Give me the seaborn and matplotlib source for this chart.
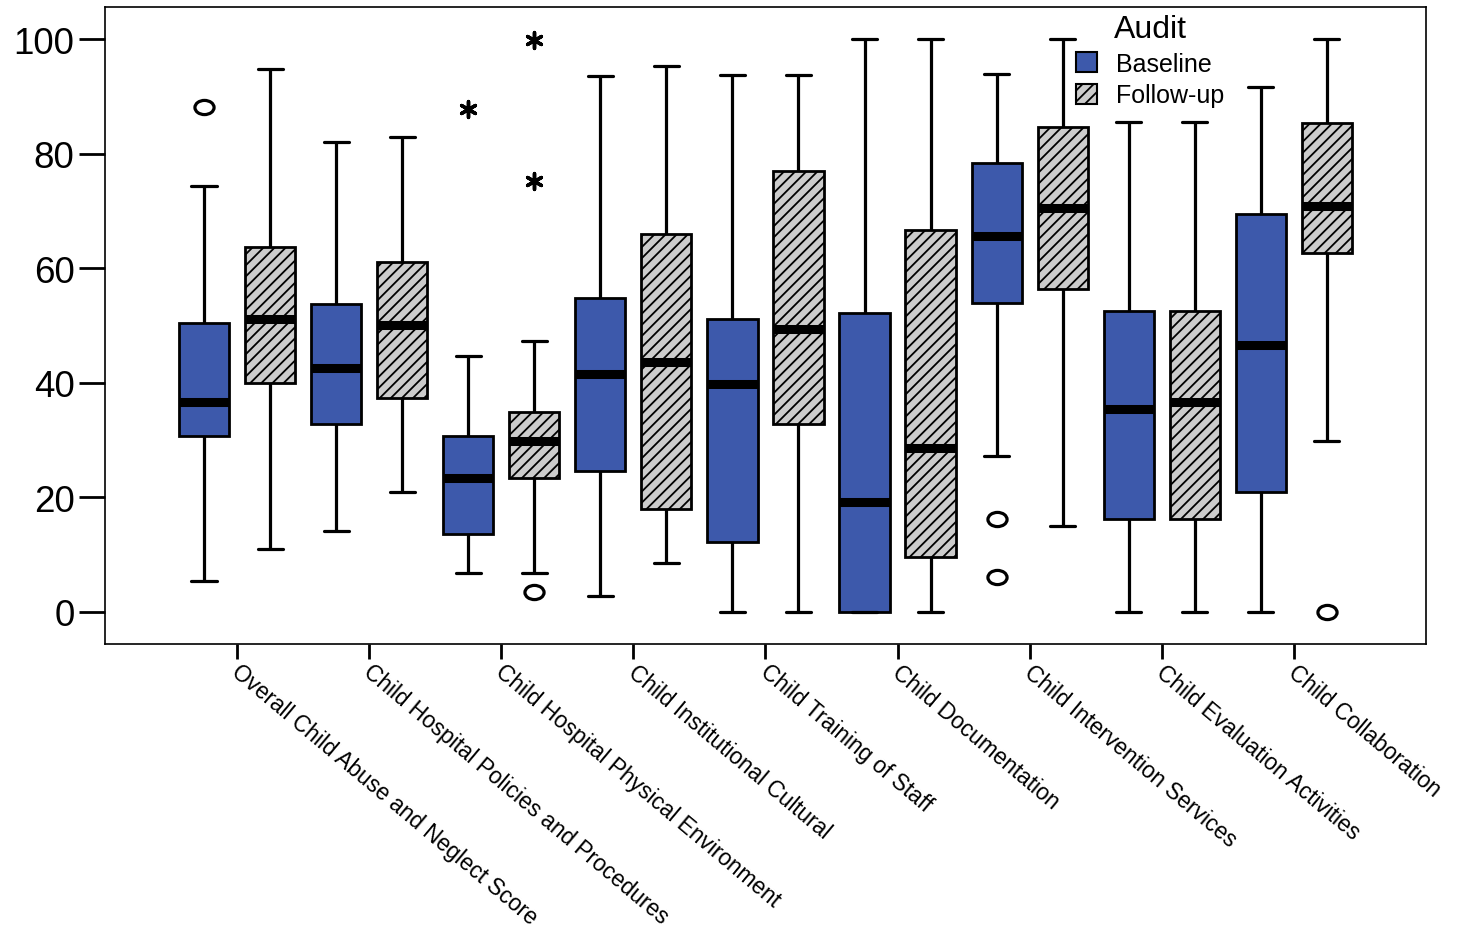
import numpy as np
import pandas as pd
import matplotlib
matplotlib.use("Agg")
import matplotlib.pyplot as plt
from matplotlib.patches import Patch
from matplotlib.path import Path
from matplotlib.transforms import Affine2D
import seaborn as sns

categories = [
    "Overall Child Abuse and Neglect Score",
    "Child Hospital Policies and Procedures",
    "Child Hospital Physical Environment",
    "Child Institutional Cultural",
    "Child Training of Staff",
    "Child Documentation",
    "Child Intervention Services",
    "Child Evaluation Activities",
    "Child Collaboration",
]
audits = ["Baseline", "Follow-up"]

# whisker low, Q1, median, Q3, whisker high
baseline_stats = [
    [5.4, 30.7, 36.6, 50.4, 74.3],
    [14.1, 32.8, 42.6, 53.8, 82.0],
    [6.8, 13.6, 23.4, 30.7, 44.7],
    [2.8, 24.6, 41.5, 54.8, 93.5],
    [0.0, 12.2, 39.8, 51.1, 93.7],
    [0.0, 0.0, 19.2, 52.2, 100.0],
    [27.1, 53.9, 65.6, 78.4, 93.9],
    [0.0, 16.1, 35.3, 52.5, 85.5],
    [0.0, 20.8, 46.6, 69.5, 91.6],
]
followup_stats = [
    [11.0, 40.0, 51.1, 63.7, 94.8],
    [20.8, 37.3, 50.1, 61.1, 82.9],
    [6.8, 23.4, 29.8, 34.9, 47.3],
    [8.4, 18.0, 43.6, 66.0, 95.3],
    [0.0, 32.8, 49.4, 77.0, 93.7],
    [0.0, 9.6, 28.6, 66.7, 100.0],
    [15.0, 56.4, 70.5, 84.6, 100.0],
    [0.0, 16.1, 36.6, 52.5, 85.5],
    [29.8, 62.7, 70.9, 85.3, 100.0],
]

# outliers (circles) and extremes (stars)
out_cat = [0, 2, 2, 2, 2, 6, 6, 8]
out_audit = ["Baseline", "Baseline", "Follow-up", "Follow-up", "Follow-up",
             "Baseline", "Baseline", "Follow-up"]
out_val = [88.1, 87.8, 99.8, 75.2, 3.5, 16.1, 6.1, 0.0]
out_kind = ["o", "*", "*", "*", "o", "o", "o", "o"]

rows = []
for i, cat in enumerate(categories):
    for aud, stats in zip(audits, [baseline_stats, followup_stats]):
        for v in stats[i]:
            rows.append({"Category": cat, "Audit": aud, "Score": v})
df = pd.DataFrame(rows)

sns.set_theme(style="white")
plt.rcParams["font.family"] = ["Liberation Sans", "DejaVu Sans"]
plt.rcParams["text.color"] = "black"
plt.rcParams["xtick.color"] = "black"
plt.rcParams["ytick.color"] = "black"
plt.rcParams["xtick.labelcolor"] = "black"
plt.rcParams["ytick.labelcolor"] = "black"
plt.rcParams["hatch.linewidth"] = 1.3
plt.rcParams["hatch.color"] = "black"

fig, ax = plt.subplots(figsize=(14.58, 9.37), dpi=100)
fig.subplots_adjust(left=0.072, right=0.978, top=0.9915, bottom=0.312)

blue = "#3d59ab"
grey = "#cccccc"
sns.boxplot(data=df, x="Category", y="Score", hue="Audit", order=categories,
            hue_order=audits, palette={"Baseline": blue, "Follow-up": grey},
            width=1.0, gap=0.24, whis=(0, 100), linecolor="black", linewidth=2,
            medianprops=dict(linewidth=6.5, color="black", solid_capstyle="butt"),
            whiskerprops=dict(linewidth=2.3), capprops=dict(linewidth=2.3),
            saturation=1, legend=False, ax=ax)

for p in ax.patches:
    fc = p.get_facecolor()
    if abs(fc[0] - fc[2]) < 0.01:
        p.set_hatch("///")

# outliers
ell = Path.unit_circle().transformed(Affine2D().scale(1.35, 1.0))
for c, a, v, k in zip(out_cat, out_audit, out_val, out_kind):
    x = c + (-0.25 if a == "Baseline" else 0.25)
    if k == "o":
        ax.scatter([x], [v], marker=ell, s=190, facecolor="white",
                   edgecolor="black", linewidth=2.3, zorder=5, clip_on=False)
    else:
        ax.scatter([x], [v], marker=(6, 2, 0), s=130, color="black",
                   linewidth=2.5, zorder=5, clip_on=False)

ax.set_xlim(-1, 9)
ax.set_ylim(-5.6, 105.6)
ax.set_yticks([0, 20, 40, 60, 80, 100])
ax.set_xlabel("")
ax.set_ylabel("")
ax.tick_params(axis="y", direction="out", length=19, width=2, labelsize=26.5,
               pad=3, left=True, color="black", labelcolor="black")
ax.tick_params(axis="x", direction="out", length=11, width=2, left=False,
               bottom=True, color="black", labelcolor="black", pad=2)
ax.set_xticks(range(len(categories)))
ax.set_xticklabels(categories, rotation=-40, ha="left", va="top",
                   rotation_mode="anchor", fontsize=16.3)
for lab in ax.get_xticklabels():
    lab.set_transform(lab.get_transform() + Affine2D().translate(5, 2))
for s in ax.spines.values():
    s.set_color("black")
    s.set_linewidth(1.2)

handles = [Patch(facecolor=blue, edgecolor="black", linewidth=1.5, label="Baseline"),
           Patch(facecolor=grey, edgecolor="black", linewidth=1.5, hatch="///",
                 label="Follow-up")]
leg = ax.legend(handles=handles, title="Audit", loc="upper left",
                bbox_to_anchor=(0.722, 1.016), frameon=False, fontsize=18,
                title_fontsize=23, handlelength=0.85, handleheight=0.85,
                handletextpad=0.75, labelspacing=0.3, borderpad=0.2)

fig.savefig("out.png", dpi=100)
